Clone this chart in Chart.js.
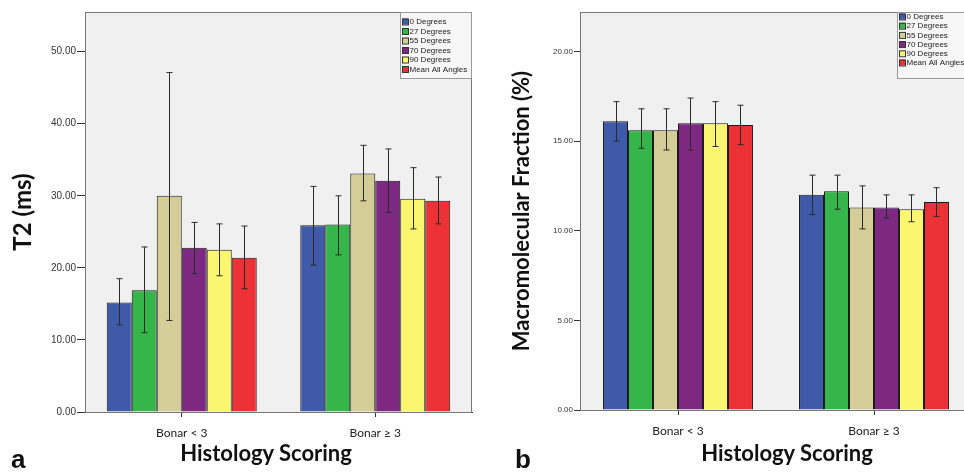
<!DOCTYPE html>
<html>
<head>
<meta charset="utf-8">
<script src="https://cdn.jsdelivr.net/npm/chart.js@4"></script>
<style>
  html, body { margin: 0; padding: 0; background: #fff; overflow: hidden; }
  body { width: 964px; height: 476px; position: relative; }
  .panel { position: absolute; top: 0; height: 476px; }
  .xtitle { position: absolute; font: bold 22px Lato, sans-serif; color: #111; white-space: nowrap; transform: translateX(-50%); }
  .letter { position: absolute; font: bold 26px "Liberation Sans", Arial, sans-serif; color: #111; }
</style>
</head>
<body>
<div class="panel" style="left:0;width:482px"><canvas id="chartA" width="482" height="476"></canvas></div>
<div class="panel" style="left:482px;width:500px"><canvas id="chartB" width="500" height="476"></canvas></div>
<div class="xtitle" style="left:266px;top:439px">Histology Scoring</div>
<div class="xtitle" style="left:787px;top:439px">Histology Scoring</div>
<div class="letter" style="left:11px;top:444px">a</div>
<div class="letter" style="left:515px;top:444px">b</div>
<script>
// данные
const categories = ['Bonar < 3', 'Bonar ≥ 3'];
const seriesLabels = ['0 Degrees', '27 Degrees', '55 Degrees', '70 Degrees', '90 Degrees', 'Mean All Angles'];
const seriesColors = ['#3f5aa9', '#35b54a', '#d5cd98', '#7d2881', '#fbf66f', '#ec3237'];

// T2 (ms): среднее и границы планок погрешностей
const t2Mean = [[15.2, 25.9], [16.9, 26.0], [30.0, 33.1], [22.8, 32.1], [22.5, 29.6], [21.4, 29.3]];
const t2Low  = [[12.1, 20.4], [11.0, 21.8], [12.7, 29.3], [19.2, 27.7], [18.9, 25.4], [17.1, 26.1]];
const t2High = [[18.5, 31.3], [22.9, 30.0], [47.1, 37.0], [26.3, 36.5], [26.1, 33.9], [25.8, 32.6]];
const t2Ticks = [0, 10, 20, 30, 40, 50];

// Macromolecular Fraction (%)
const mfMean = [[16.1, 12.0], [15.6, 12.2], [15.6, 11.3], [16.0, 11.3], [16.0, 11.2], [15.9, 11.6]];
const mfLow  = [[15.0, 10.9], [14.6, 11.2], [14.5, 10.1], [14.5, 10.7], [14.7, 10.5], [14.8, 10.8]];
const mfHigh = [[17.2, 13.1], [16.8, 13.1], [16.8, 12.5], [17.4, 12.0], [17.2, 12.0], [17.0, 12.4]];
const mfTicks = [0, 5, 10, 15, 20];

// фон области построения и рамка
const framePlugin = {
  id: 'frame',
  beforeDraw(chart) {
    const { ctx, chartArea: a } = chart;
    ctx.save();
    ctx.fillStyle = '#f0f0f0';
    ctx.fillRect(a.left, a.top, a.right - a.left, a.bottom - a.top);
    ctx.restore();
  },
  afterDraw(chart) {
    const { ctx, chartArea: a } = chart;
    ctx.save();
    ctx.strokeStyle = '#777';
    ctx.lineWidth = 1;
    ctx.strokeRect(a.left + 0.5, a.top + 0.5, a.right - a.left - 1, a.bottom - a.top);
    ctx.restore();
  }
};

// планки погрешностей
const errorBarPlugin = {
  id: 'errorBars',
  afterDatasetsDraw(chart, args, opts) {
    const { ctx } = chart;
    const yScale = chart.scales.y;
    ctx.save();
    ctx.strokeStyle = '#2a2a2a';
    ctx.lineWidth = 1;
    chart.data.datasets.forEach((ds, i) => {
      const meta = chart.getDatasetMeta(i);
      meta.data.forEach((bar, j) => {
        const x = Math.round(bar.x) + 0.5;
        const yLo = yScale.getPixelForValue(opts.low[i][j]);
        const yHi = yScale.getPixelForValue(opts.high[i][j]);
        ctx.beginPath();
        ctx.moveTo(x, yLo); ctx.lineTo(x, yHi);
        ctx.moveTo(x - 3, yLo); ctx.lineTo(x + 3, yLo);
        ctx.moveTo(x - 3, yHi); ctx.lineTo(x + 3, yHi);
        ctx.stroke();
      });
    });
    ctx.restore();
  }
};

// легенда в правом верхнем углу
const boxLegendPlugin = {
  id: 'boxLegend',
  afterDraw(chart, args, opts) {
    const { ctx, chartArea: a } = chart;
    const left = a.right - opts.boxWidth;
    ctx.save();
    ctx.fillStyle = '#f7f7f7';
    ctx.strokeStyle = '#999';
    ctx.lineWidth = 1;
    ctx.fillRect(left + 0.5, a.top + 0.5, opts.boxWidth - 1, opts.boxHeight);
    ctx.strokeRect(left + 0.5, a.top + 0.5, opts.boxWidth - 1, opts.boxHeight);
    ctx.font = opts.fontSize + 'px "Liberation Sans", Arial, sans-serif';
    ctx.textBaseline = 'middle';
    chart.data.datasets.forEach((ds, i) => {
      const cy = a.top + opts.firstRow + i * opts.rowStep;
      ctx.fillStyle = ds.backgroundColor;
      ctx.fillRect(left + 2, cy - 3, 6, 6);
      ctx.strokeStyle = '#333';
      ctx.strokeRect(left + 2.5, cy - 2.5, 6, 6);
      ctx.fillStyle = '#222';
      ctx.fillText(ds.label, left + 9.5, cy + 0.5);
    });
    ctx.restore();
  }
};

function makeChart(id, cfg) {
  const ctx = document.getElementById(id).getContext('2d');
  return new Chart(ctx, {
    type: 'bar',
    data: {
      labels: categories,
      datasets: seriesLabels.map((label, i) => ({
        label: label,
        data: cfg.means[i],
        backgroundColor: seriesColors[i],
        borderColor: '#1a1a1a',
        borderWidth: 1,
        categoryPercentage: cfg.catPct,
        barPercentage: 1.0
      }))
    },
    options: {
      responsive: false,
      animation: false,
      events: [],
      layout: { padding: { top: 12, right: cfg.padRight, bottom: 0, left: 0 } },
      plugins: {
        legend: { display: false },
        tooltip: { enabled: false },
        errorBars: { low: cfg.low, high: cfg.high },
        boxLegend: cfg.legend
      },
      scales: {
        x: {
          type: 'category',
          offset: true,
          afterFit: (s) => { s.height = cfg.xHeight; },
          grid: { offset: false, drawOnChartArea: false, drawTicks: true, tickLength: 5, color: '#333' },
          border: { display: true, color: '#333' },
          ticks: { color: '#222', padding: 9, font: { family: 'Lato', size: 12 } }
        },
        y: {
          type: 'linear',
          min: 0,
          max: cfg.max,
          afterFit: (s) => { s.width = cfg.yWidth; },
          afterBuildTicks: (s) => { s.ticks = cfg.ticks.map(v => ({ value: v })); },
          grid: { drawOnChartArea: false, drawTicks: true, tickLength: cfg.tickLen, color: '#333' },
          border: { display: true, color: '#333' },
          ticks: {
            color: '#333',
            padding: 1,
            font: { family: 'Liberation Sans', size: cfg.tickFont },
            callback: (v) => Number(v).toFixed(2)
          },
          title: {
            display: true,
            text: cfg.yTitle,
            color: '#111',
            font: { family: 'Lato', size: cfg.yTitleSize, weight: 'bold' },
            padding: { top: cfg.yTitlePad, bottom: 0 }
          }
        }
      }
    },
    plugins: [framePlugin, errorBarPlugin, boxLegendPlugin]
  });
}

makeChart('chartA', {
  means: t2Mean, low: t2Low, high: t2High, ticks: t2Ticks,
  max: 55.5, yWidth: 85, xHeight: 64, padRight: 10, catPct: 0.775,
  tickLen: 8, tickFont: 10, yTitle: 'T2 (ms)', yTitleSize: 24, yTitlePad: 9,
  legend: { boxWidth: 72, boxHeight: 66, firstRow: 9.5, rowStep: 9.5, fontSize: 8 }
});

makeChart('chartB', {
  means: mfMean, low: mfLow, high: mfHigh, ticks: mfTicks,
  max: 22.2, yWidth: 98, xHeight: 66, padRight: 10, catPct: 0.765,
  tickLen: 6, tickFont: 8, yTitle: 'Macromolecular Fraction (%)', yTitleSize: 22, yTitlePad: 27,
  legend: { boxWidth: 75, boxHeight: 66, firstRow: 4.5, rowStep: 9.2, fontSize: 8 }
});
</script>
</body>
</html>
